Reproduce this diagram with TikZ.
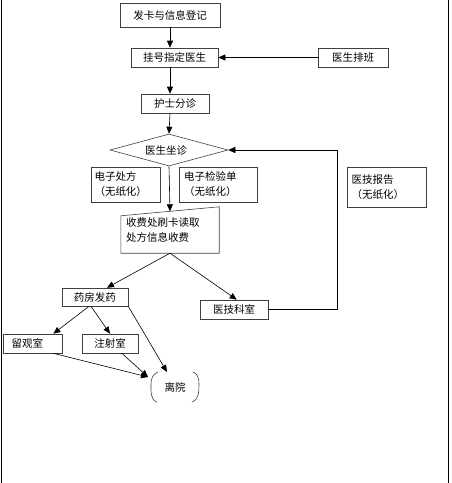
\documentclass[tikz,border=0pt]{standalone}
\usepackage{fontspec}
\newfontfamily\cjk{Noto Sans CJK SC}
\usetikzlibrary{shapes.geometric,arrows.meta,calc}
\tikzset{
  box/.style={draw=black!75,line width=0.6pt,rectangle,inner sep=0pt,font=\cjk\fontsize{10.5}{15}\selectfont},
  twoline/.style={box,align=left,anchor=center},
  plain/.style={inner sep=0pt,font=\cjk\fontsize{10.5}{15}\selectfont},
  arr/.style={-{Triangle[length=7pt,width=6pt]},line width=0.6pt,black},
  lin/.style={line width=0.6pt,black}
}
\begin{document}
\begin{tikzpicture}[x=1pt,y=-1pt]
\useasboundingbox (0,0) rectangle (451,483);
% frame sides
\draw[line width=1pt] (1.5,0) -- (1.5,483);
\draw[line width=1pt] (448,0) -- (448,483);
% nodes
\node[box,minimum width=100pt,minimum height=24pt] (reg) at (170,15) {发卡与信息登记};
\node[box,minimum width=87pt,minimum height=19pt] (gh) at (174.5,57.5) {挂号指定医生};
\node[box,minimum width=70pt,minimum height=19pt] (pb) at (353,57.5) {医生排班};
\node[box,minimum width=68pt,minimum height=19pt] (hs) at (175,103.5) {护士分诊};
\node[draw=black!75,line width=0.6pt,diamond,shape aspect=3.7,inner sep=0pt,minimum width=118pt,minimum height=32pt] (dg) at (169,150) {};
\node[plain] at (166,150) {医生坐诊};
\node[box,minimum width=69pt,minimum height=35pt,text width=62pt,align=left] (cf) at (125.5,184.5) {电子处方\\（无纸化）};
\node[box,minimum width=78pt,minimum height=35pt,text width=68pt,align=left] (jy) at (218,184.5) {电子检验单\\（无纸化）};
\node[box,minimum width=79pt,minimum height=40pt,text width=70pt,align=left] (yb) at (386.5,187) {\raisebox{3pt}{\parbox{70pt}{医技报告\\（无纸化）}}};
% manual input box
\node[plain,minimum width=98pt,minimum height=46pt,text width=88pt,align=left] (sf) at (170,230) {\raisebox{-2pt}{\parbox{88pt}{收费处刷卡读取\\处方信息收费}}};
\draw[draw=black!75,line width=0.6pt] (sf.south west) -- (sf.south east) -- (sf.north east) -- ($(sf.north west)+(0,9)$) -- cycle;
\coordinate (sftop) at ($(sf.north)+(0,4.5)$);
\node[box,minimum width=66pt,minimum height=18pt] (yf) at (95,297) {药房发药};
\node[box,minimum width=68pt,minimum height=19pt] (yj) at (234,309.5) {医技科室};
\node[box,minimum width=59pt,minimum height=19pt] (lg) at (32.5,343.5) {\hspace*{-10pt}留观室};
\node[box,minimum width=56pt,minimum height=19pt] (zs) at (110,343.5) {注射室};
% exit node
\node[plain,minimum width=50pt,minimum height=29pt] (ly) at (175,387.5) {离院};
\draw[draw=black!75,line width=0.6pt] (158,372) to[out=200,in=90] (151,384) to[out=-90,in=160] (157,402);
\draw[draw=black!75,line width=0.6pt] (193,372) to[out=-20,in=90] (199,384) to[out=-90,in=20] (192,402);
\coordinate (lyin) at (148,377);
\coordinate (lytop) at (167,372);
\coordinate (fb) at (337,150);
% connectors
\draw[arr] (reg.south) -- (reg.south |- gh.north);
\draw[arr] (pb.west) -- (gh.east);
\draw[arr] (gh.south -| reg.south) -- (hs.north -| reg.south);
\draw[arr] (hs.south -| reg.south) -- (dg.north);
\draw[arr] (dg.south) -- (sftop);
\draw[arr] (sf.south) -- ($(yf.north west)!0.68!(yf.north east)$);
\draw[arr] (sf.south) -- ($(yj.north west)!0.54!(yj.north east)$);
\draw[arr] (yj.east) -- (yj.east -| fb) -- (fb) -- (dg.east);
\draw[arr] ($(yf.south west)!0.41!(yf.south east)$) -- ($(lg.north west)!0.85!(lg.north east)$);
\draw[arr] ($(yf.south west)!0.44!(yf.south east)$) -- (zs.north);
\draw[arr] (yf.south east) -- (lytop);
\draw[arr] ($(lg.south west)!0.85!(lg.south east)$) -- (lyin);
\draw[arr] ($(zs.south west)!0.71!(zs.south east)$) -- (lyin);
\end{tikzpicture}
\end{document}
